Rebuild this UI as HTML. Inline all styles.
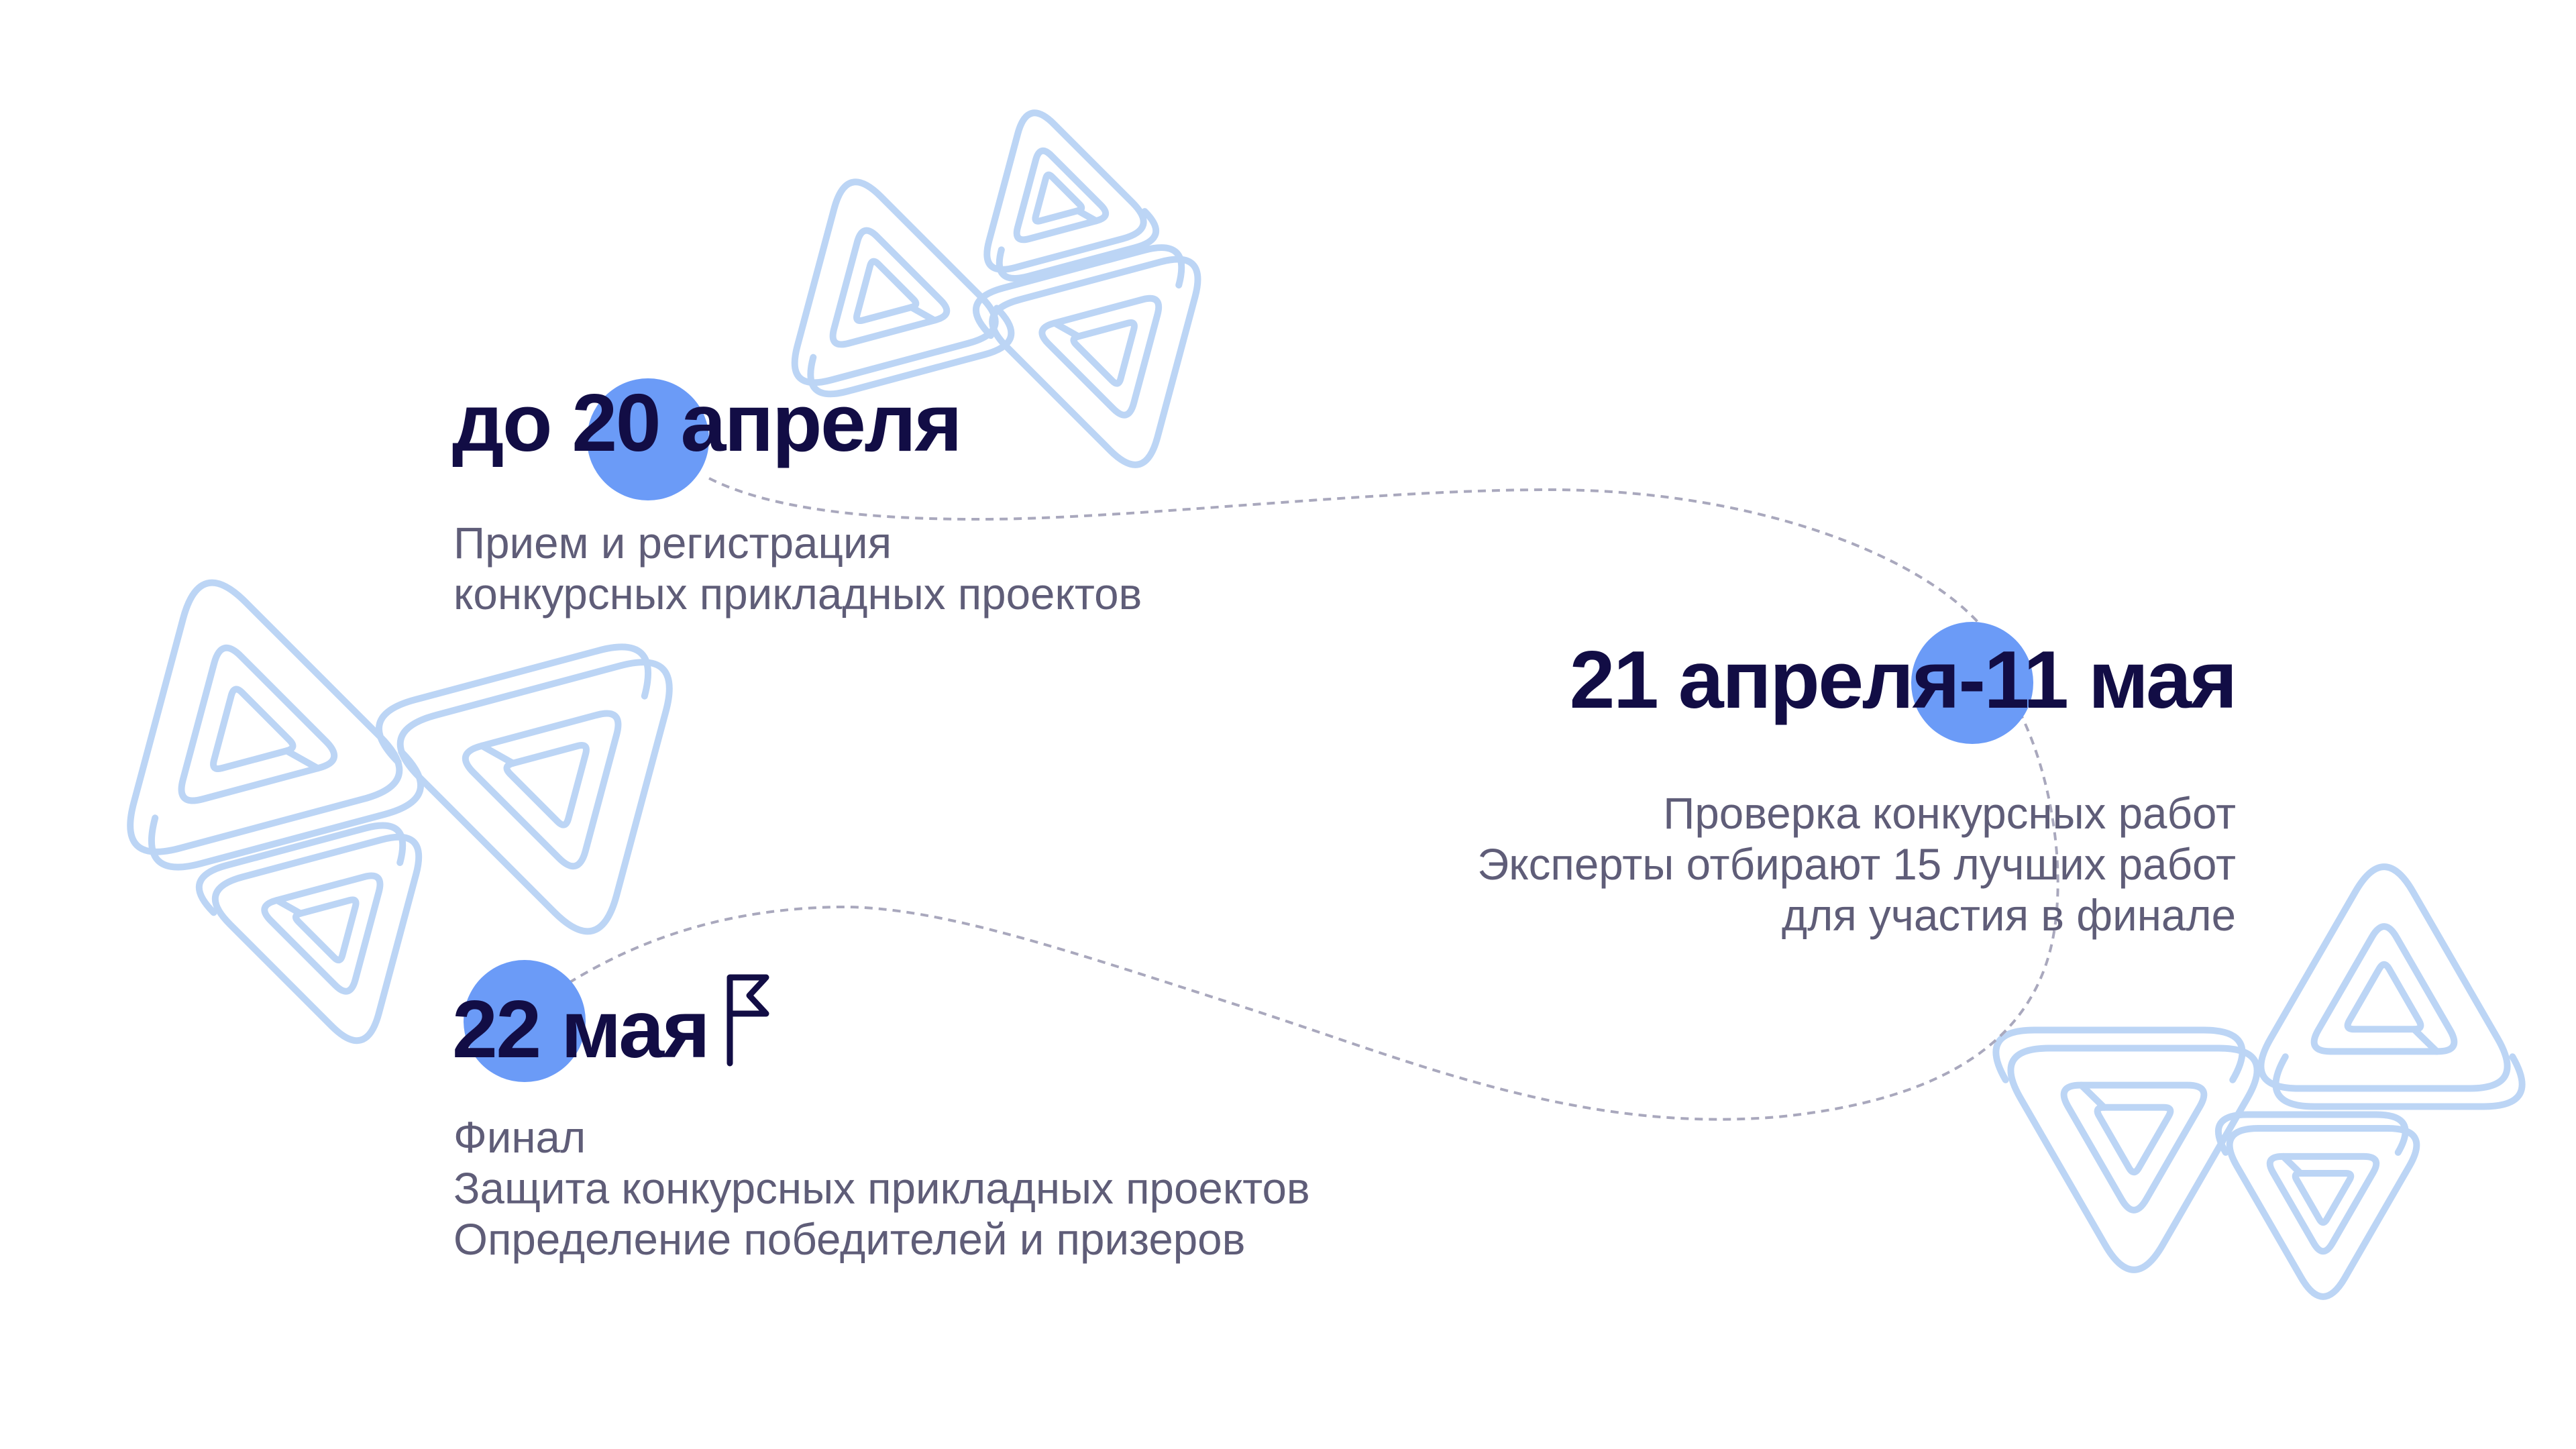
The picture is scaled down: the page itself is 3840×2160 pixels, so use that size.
<!DOCTYPE html>
<html><head><meta charset="utf-8"><style>
html,body{margin:0;padding:0;background:#fff;}
body{width:3840px;height:2160px;position:relative;overflow:hidden;font-family:"Liberation Sans",sans-serif;}
svg{position:absolute;left:0;top:0;}
.t{position:absolute;white-space:nowrap;}
.h{font-weight:bold;font-size:122px;color:#120d45;line-height:1;letter-spacing:-2.5px;}
.s{font-size:65.5px;color:#5f5d78;line-height:76px;}
</style></head><body>
<svg width="3840" height="2160" viewBox="0 0 3840 2160">
<defs>
<g id="tri" fill="none" stroke="#bcd5f5" stroke-width="10" stroke-linejoin="round" stroke-linecap="round">
<path vector-effect="non-scaling-stroke" d="M17.5,-69.7 L69.1,19.7 Q86.6,50 51.6,50 L-51.6,50 Q-86.6,50 -69.1,19.7 L-17.5,-69.7 Q0,-100 17.5,-69.7Z"/>
<path vector-effect="non-scaling-stroke" transform="translate(9,11)" d="M69.1,19.7 Q86.6,50 51.6,50 L-51.6,50 Q-86.6,50 -69.1,19.7"/>
<path vector-effect="non-scaling-stroke" d="M7.5,-42 L40.1,14.5 Q47.6,27.5 32.6,27.5 L-32.6,27.5 Q-47.6,27.5 -40.1,14.5 L-7.5,-42 Q0,-55 7.5,-42Z"/>
<path vector-effect="non-scaling-stroke" d="M3,-22.8 L21.2,8.8 Q24.2,14 18.2,14 L-18.2,14 Q-24.2,14 -21.2,8.8 L-3,-22.8 Q0,-28 3,-22.8Z"/>
<path vector-effect="non-scaling-stroke" d="M18.2,14 L32,27.5"/>
</g>
</defs>
<use href="#tri" transform="translate(1315,440) rotate(-15) scale(2.05)"/>
<use href="#tri" transform="translate(1573,300) rotate(-15) scale(1.6)"/>
<use href="#tri" transform="translate(1652,520) rotate(165) scale(2.1)"/>
<use href="#tri" transform="translate(369,1095) rotate(-15) scale(2.75)"/>
<use href="#tri" transform="translate(823,1162) rotate(165) scale(2.75)"/>
<use href="#tri" transform="translate(492,1380) rotate(165) scale(2.08)"/>
<use href="#tri" transform="translate(3554,1500) rotate(0) scale(2.45)"/>
<use href="#tri" transform="translate(3181,1685) rotate(180) scale(2.45)"/>
<use href="#tri" transform="translate(3463,1775) rotate(180) scale(1.86)"/>
<g fill="none" stroke="#a9a8bd" stroke-width="4" stroke-dasharray="12 9">
<path d="M1057,713 C1150,760 1300,775 1475,774 C1700,772 2050,730 2310,730 C2600,730 2850,820 2950,929"/>
<path d="M3010,1060 C3060,1160 3080,1300 3060,1400 C3030,1550 2900,1640 2650,1665 C2350,1690 2100,1580 1850,1500 C1600,1420 1400,1350 1250,1352 C1050,1355 920,1420 840,1470"/>
</g>
<circle cx="966" cy="655" r="91" fill="#6b9bf7"/>
<circle cx="2940" cy="1018" r="91" fill="#6b9bf7"/>
<circle cx="782" cy="1522" r="91" fill="#6b9bf7"/>
<path d="M1088,1585 V1457 H1142 L1117,1484 L1142,1511 H1088" fill="none" stroke="#120d45" stroke-width="9" stroke-linejoin="round" stroke-linecap="round"/>
</svg>
<div class="t h" style="left:674px;top:569px;">до 20 апреля</div>
<div class="t s" style="left:676px;top:772px;">Прием и регистрация<br>конкурсных прикладных проектов</div>
<div class="t h" style="right:507px;top:952px;text-align:right;">21 апреля-11 мая</div>
<div class="t s" style="right:507px;top:1175px;text-align:right;">Проверка конкурсных работ<br>Эксперты отбирают 15 лучших работ<br>для участия в финале</div>
<div class="t h" style="left:674px;top:1473px;">22 мая</div>
<div class="t s" style="left:676px;top:1658px;">Финал<br>Защита конкурсных прикладных проектов<br>Определение победителей и призеров</div>
</body></html>
